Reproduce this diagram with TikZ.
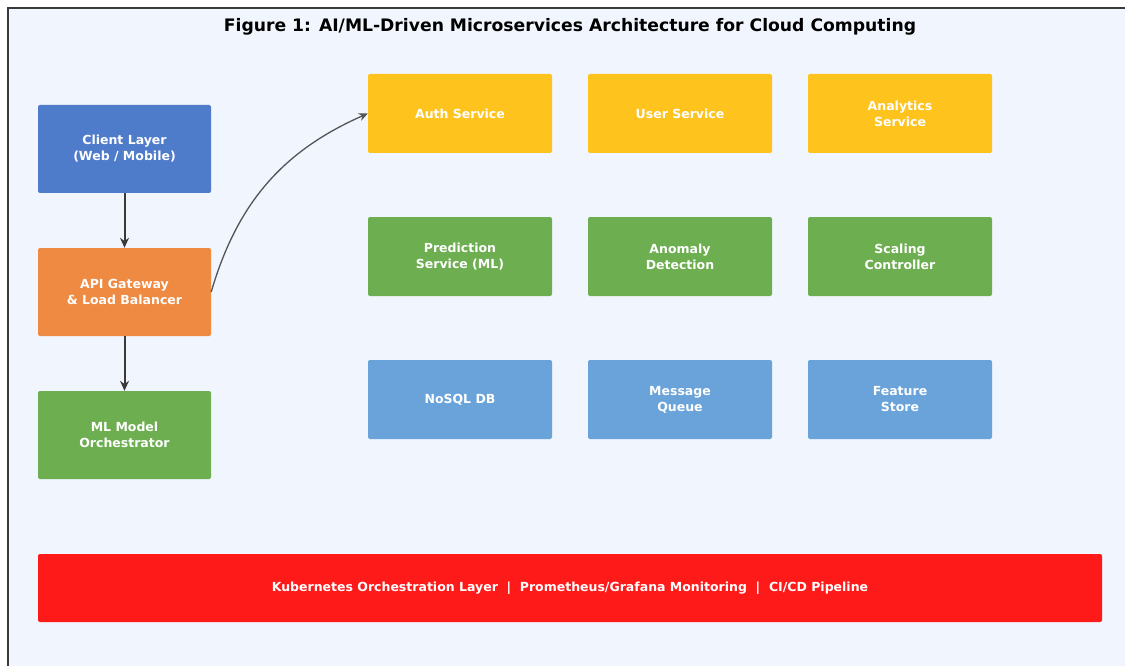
\documentclass[tikz,border=0pt]{standalone}
\usepackage{fontspec}
\setmainfont{DejaVu Sans}
\usetikzlibrary{arrows.meta}
\definecolor{bgc}{HTML}{F1F5FD}
\definecolor{cblue}{HTML}{4F7BCB}
\definecolor{corange}{HTML}{EF8A42}
\definecolor{cgreen}{HTML}{6DAE50}
\definecolor{cyellow}{HTML}{FFC31E}
\definecolor{clblue}{HTML}{69A3DA}
\definecolor{cred}{HTML}{FF1A1A}
\definecolor{arrc}{HTML}{3A3A3A}
\definecolor{curvc}{HTML}{555555}
\tikzset{
  box/.style={rectangle, rounded corners=2pt, draw=none, text=white, font=\bfseries\fontsize{12.5}{16}\selectfont, align=center, inner sep=0pt},
  leftbox/.style={box, minimum width=173pt, minimum height=88pt},
  svcbox/.style={box, minimum width=184pt, minimum height=79pt},
  conn/.style={draw=arrc, line width=2pt, -{Stealth[length=10pt,width=9pt]}},
  curveconn/.style={draw=curvc, line width=1.3pt, -{Stealth[length=9pt,width=8pt]}}
}
\begin{document}
\begin{tikzpicture}[x=1pt,y=-1pt]
\useasboundingbox (0,0) rectangle (1125,666);
\fill[white] (0,0) rectangle (1125,666);
\fill[bgc] (8,8) rectangle (1125,666);
\draw[arrc, line width=1.4pt] (8,666) -- (8,8) -- (1125,8);
\node[font=\bfseries\fontsize{17.2}{20}\selectfont] (title) at (570,27) {Figure 1: AI/ML-Driven Microservices Architecture for Cloud Computing};
\node[leftbox, fill=cblue] (client) at (124.5,149) {Client Layer\\(Web / Mobile)};
\node[leftbox, fill=corange] (api) at (124.5,292) {API Gateway\\\& Load Balancer};
\node[leftbox, fill=cgreen] (ml) at (124.5,435) {ML Model\\Orchestrator};
\node[svcbox, fill=cyellow] (auth) at (460,113.5) {Auth Service};
\node[svcbox, fill=cyellow] (user) at (680,113.5) {User Service};
\node[svcbox, fill=cyellow] (analytics) at (900,113.5) {Analytics\\Service};
\node[svcbox, fill=cgreen] (pred) at (460,256.5) {Prediction\\Service (ML)};
\node[svcbox, fill=cgreen] (anom) at (680,256.5) {Anomaly\\Detection};
\node[svcbox, fill=cgreen] (scal) at (900,256.5) {Scaling\\Controller};
\node[svcbox, fill=clblue] (nosql) at (460,399.5) {NoSQL DB};
\node[svcbox, fill=clblue] (mq) at (680,399.5) {Message\\Queue};
\node[svcbox, fill=clblue] (fs) at (900,399.5) {Feature\\Store};
\node[box, fill=cred, minimum width=1064pt, minimum height=68pt] (k8s) at (570,588) {Kubernetes Orchestration Layer~~|~~Prometheus/Grafana Monitoring~~|~~CI/CD Pipeline};
\draw[conn] (client) -- (api);
\draw[conn] (api) -- (ml);
\draw[curveconn] (api.east) to[bend left=25] (auth.west);
\end{tikzpicture}
\end{document}
